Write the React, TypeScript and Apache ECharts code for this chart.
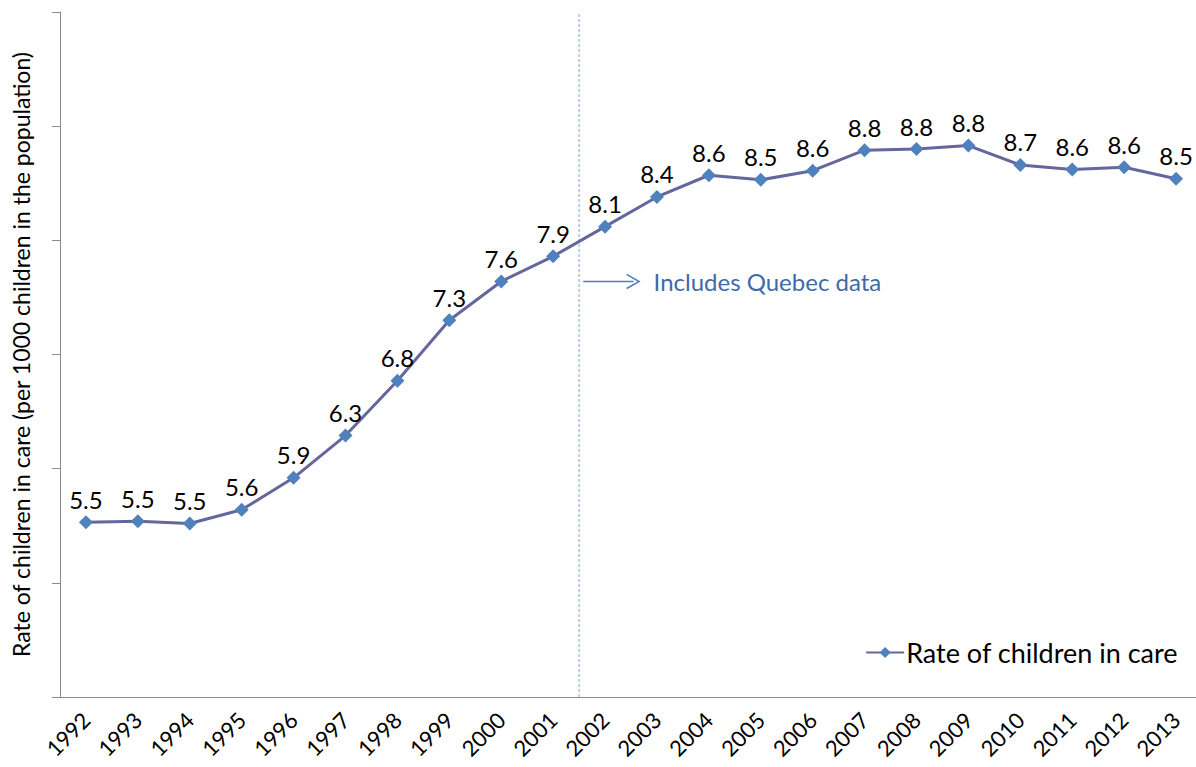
import React, { useEffect, useRef } from "react";
import * as echarts from "echarts";

const years = ["1992","1993","1994","1995","1996","1997","1998","1999","2000","2001","2002","2003","2004","2005","2006","2007","2008","2009","2010","2011","2012","2013"];
const rates = [5.53,5.54,5.52,5.64,5.92,6.29,6.77,7.30,7.64,7.86,8.12,8.38,8.57,8.53,8.61,8.79,8.80,8.83,8.66,8.62,8.64,8.54];
const seriesName = "Rate of children in care";
const yTitle = "Rate of children in care (per 1000 children in the population)";
const dividerX = 9.5; // between 2001 and 2002
const yMin = 4, yMax = 10, yStep = 1;
const noteText = "Includes Quebec data";
const arrowStart = [9.58, 7.64];
const arrowEnd = [10.55, 7.64];

const FONT = "Lato, 'Liberation Sans', sans-serif";
const CHEVRON = "path://M0,12 L6,0 L12,12 L10.6,12 L6,2.6 L1.4,12 Z";

export default function App() {
  const ref = useRef<HTMLDivElement>(null);
  useEffect(() => {
    const chart = echarts.init(ref.current!, null, { renderer: "svg" });
    chart.setOption({
      animation: false,
      textStyle: { fontFamily: FONT },
      grid: { left: 60, right: 0, top: 12, bottom: 70, containLabel: false },
      legend: {
        right: 19,
        top: 634,
        data: [seriesName],
        itemWidth: 38,
        itemHeight: 14,
        itemGap: 0,
        textStyle: { fontSize: 27, color: "#000", fontFamily: FONT, padding: [0, 0, 0, -3] },
      },
      xAxis: [
        {
          type: "category",
          data: years,
          boundaryGap: true,
          axisLine: { show: true, onZero: false, lineStyle: { color: "#8c8c8c", width: 1 } },
          axisTick: { show: false },
          axisLabel: { rotate: 45, fontSize: 22, color: "#000", margin: 19, fontFamily: FONT },
          splitLine: { show: false },
        },
        {
          type: "value",
          min: -0.5,
          max: years.length - 0.5,
          show: false,
        },
      ],
      yAxis: {
        type: "value",
        min: yMin,
        max: yMax,
        interval: yStep,
        name: yTitle,
        nameLocation: "middle",
        nameGap: 28,
        nameRotate: 90,
        nameTextStyle: { fontSize: 23, color: "#000", fontFamily: FONT },
        axisLine: { show: true, onZero: false, lineStyle: { color: "#8c8c8c", width: 1 } },
        axisTick: { show: true, length: 8, lineStyle: { color: "#8c8c8c" } },
        axisLabel: { show: false },
        splitLine: { show: false },
      },
      series: [
        {
          name: seriesName,
          type: "line",
          data: rates,
          symbol: "diamond",
          symbolSize: 14,
          lineStyle: { color: "#66669f", width: 3 },
          itemStyle: { color: "#4f81bd" },
          label: {
            show: true,
            position: "top",
            distance: 4,
            fontSize: 24,
            color: "#000",
            fontFamily: FONT,
            formatter: (p: any) => Number(p.value).toFixed(1),
          },
          z: 5,
        },
        {
          name: "divider",
          type: "line",
          xAxisIndex: 1,
          data: [[dividerX, yMin], [dividerX, yMax]],
          symbol: "none",
          lineStyle: { color: "#7fa6d6", width: 1, type: [3, 2] },
          silent: true,
          z: 1,
          markLine: {
            silent: true,
            symbol: ["none", CHEVRON],
            symbolSize: [16, 14],
            lineStyle: { color: "#4f81bd", width: 1.4, type: "solid" },
            label: {
              show: true,
              position: "end",
              distance: 20,
              formatter: noteText,
              fontSize: 24,
              color: "#3f6aa8",
              fontFamily: FONT,
            },
            data: [[{ coord: arrowStart }, { coord: arrowEnd }]],
          },
        },
      ],
    });
    return () => chart.dispose();
  }, []);
  return (
    <div style={{ position: "fixed", left: 0, top: 0, width: 1196, height: 767, overflow: "hidden", background: "#fff" }}>
      <div ref={ref} style={{ width: 1202, height: 767 }} />
    </div>
  );
}
